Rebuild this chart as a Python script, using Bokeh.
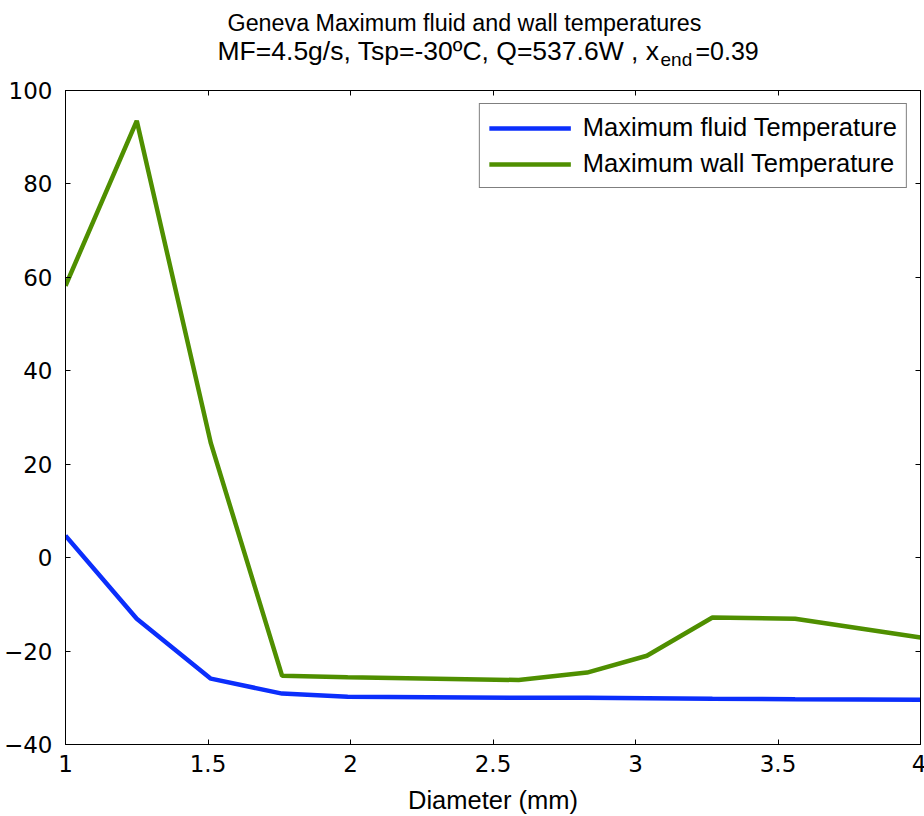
from bokeh.plotting import figure
from bokeh.models import Range1d, LinearAxis, Legend, LegendItem, FixedTicker
from bokeh.layouts import column
from bokeh.core.properties import value
from bokeh.embed import file_html
from bokeh.resources import INLINE

# Data
diameter = [1.0, 1.25, 1.51, 1.76, 1.99, 2.59, 2.83, 3.04, 3.27, 3.56, 4.0]
fluid_temp = [4.7, -13.1, -25.9, -29.1, -29.8, -30.0, -30.0, -30.1, -30.2, -30.3, -30.4]
wall_temp = [58.2, 93.5, 24.5, -25.3, -25.6, -26.2, -24.6, -21.0, -12.8, -13.1, -17.1]
x_ticks = [1, 1.5, 2, 2.5, 3, 3.5, 4]
y_ticks = [-40, -20, 0, 20, 40, 60, 80, 100]

title_line1 = "Geneva Maximum fluid and wall temperatures"
title_line2_main = "MF=4.5g/s, Tsp=-30ºC, Q=537.6W , x"
title_line2_sub = "end"
title_line2_tail = "=0.39"

FONT = "Liberation Sans"
TICKFONT = "DejaVu Sans"
BLUE = "#0b2efc"
GREEN = "#4f8f00"

BL, BR = 63, 6          # left / right borders shared by both figures
FW = 924 - BL - BR      # frame width

# ---- header with the two-line title (x in page pixels) ----
H = 72
hdr = figure(width=924, height=H, output_backend="svg", toolbar_location=None,
             title=None, x_range=Range1d(BL, BL + FW), y_range=Range1d(H, 0),
             x_axis_type=None, y_axis_type=None,
             min_border_left=BL, min_border_right=BR, min_border_top=0,
             min_border_bottom=0)
hdr.frame_width = FW
hdr.frame_height = H
hdr.outline_line_color = None
hdr.xgrid.visible = False
hdr.ygrid.visible = False
hdr.text(x=[462], y=[22], text=[title_line1], text_font=value(FONT),
         text_font_size=value("23.3px"), text_align="center",
         text_baseline="alphabetic", text_color="black")
hdr.text(x=[657], y=[50], text=[title_line2_main], text_font=value(FONT),
         text_font_size=value("26.5px"), text_align="right",
         text_baseline="alphabetic", text_color="black")
hdr.text(x=[658], y=[59], text=[title_line2_sub], text_font=value(FONT),
         text_font_size=value("19px"), text_align="left",
         text_baseline="alphabetic", text_color="black")
hdr.text(x=[693], y=[50], text=[title_line2_tail], text_font=value(FONT),
         text_font_size=value("25px"), text_align="left",
         text_baseline="alphabetic", text_color="black")

# ---- main plot ----
p = figure(width=924, height=816 - H, output_backend="svg", toolbar_location=None,
           x_range=Range1d(1, 4), y_range=Range1d(-40, 100),
           min_border_left=BL, min_border_right=BR, min_border_top=90 - H,
           min_border_bottom=72)
p.frame_height = 654
p.frame_width = FW
p.xgrid.visible = False
p.ygrid.visible = False
p.outline_line_color = "black"
p.outline_line_width = 1

r1 = p.line(diameter, fluid_temp, line_color=BLUE, line_width=4.5)
r2 = p.line(diameter, wall_temp, line_color=GREEN, line_width=4.5)

xa = p.xaxis[0]
xa.ticker = FixedTicker(ticks=x_ticks)
ya = p.yaxis[0]
ya.ticker = FixedTicker(ticks=y_ticks)
for ax in (xa, ya):
    ax.major_tick_in = 5
    ax.major_tick_out = 0
    ax.minor_tick_in = 0
    ax.minor_tick_out = 0
    ax.axis_line_color = "black"
    ax.major_tick_line_color = "black"
    ax.major_label_text_font = TICKFONT
    ax.major_label_text_font_size = "23px"
    ax.major_label_text_color = "black"
xa.major_label_standoff = 10
ya.major_label_standoff = 13
xa.axis_label = "Diameter (mm)"
xa.axis_label_text_font = FONT
xa.axis_label_text_font_size = "25.5px"
xa.axis_label_text_font_style = "normal"
xa.axis_label_text_color = "black"
xa.axis_label_standoff = 11

top = LinearAxis(ticker=FixedTicker(ticks=x_ticks),
                 major_label_overrides={t: "" for t in x_ticks},
                 major_tick_in=5, major_tick_out=0, minor_tick_in=0, minor_tick_out=0,
                 axis_line_color="black", major_label_standoff=0)
right = LinearAxis(ticker=FixedTicker(ticks=y_ticks),
                   major_label_overrides={t: "" for t in y_ticks},
                   major_tick_in=5, major_tick_out=0, minor_tick_in=0, minor_tick_out=0,
                   axis_line_color="black", major_label_standoff=0)
p.add_layout(top, "above")
p.add_layout(right, "right")

legend = Legend(items=[LegendItem(label="Maximum fluid Temperature", renderers=[r1]),
                       LegendItem(label="Maximum wall Temperature", renderers=[r2])],
                location="top_right", margin=13,
                label_text_font=FONT, label_text_font_size="25.5px",
                label_text_color="black",
                glyph_width=82, glyph_height=24, label_height=24, spacing=7,
                padding=9, label_standoff=12,
                border_line_color="black", border_line_width=1,
                background_fill_alpha=1.0)
p.add_layout(legend)

layout = column(hdr, p, spacing=0)
open("out.html", "w").write(file_html(layout, INLINE))
